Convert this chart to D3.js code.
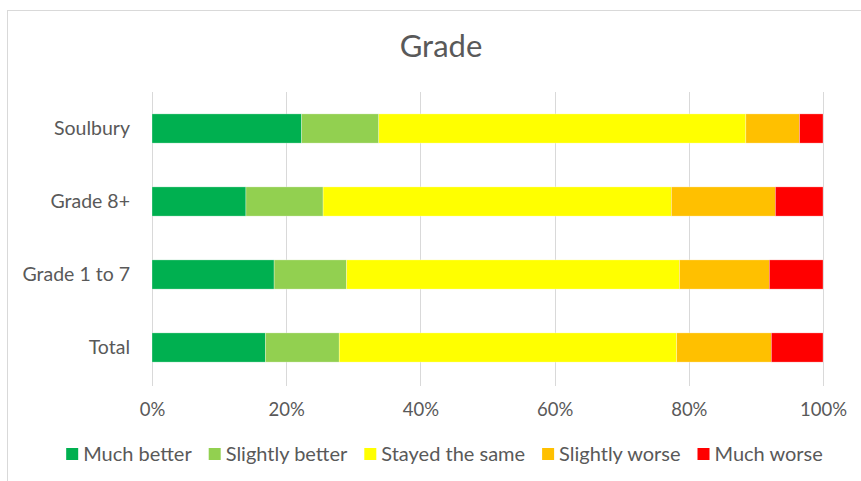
<!DOCTYPE html>
<html>
<head>
<meta charset="utf-8">
<script src="https://cdn.jsdelivr.net/npm/d3@7"></script>
<style>
  html, body { margin: 0; padding: 0; background: #fff; }
  svg { display: block; }
  text { font-family: Lato, "Open Sans", sans-serif; fill: #595959; }
</style>
</head>
<body>
<svg id="chart" width="861" height="481"></svg>
<script>
const categories = ["Soulbury", "Grade 8+", "Grade 1 to 7", "Total"];
const seriesNames = ["Much better", "Slightly better", "Stayed the same", "Slightly worse", "Much worse"];
const seriesColors = ["#00B050", "#92D050", "#FFFF00", "#FFC000", "#FF0000"];
const muchBetter     = [22.3, 14.0, 18.2, 16.9];
const slightlyBetter = [11.5, 11.5, 10.8, 11.0];
const stayedSame     = [54.7, 51.9, 49.6, 50.3];
const slightlyWorse  = [8.0, 15.5, 13.4, 14.1];
const muchWorse      = [3.5, 7.1, 8.0, 7.7];
const tickValues = [0, 0.2, 0.4, 0.6, 0.8, 1.0];
const titleText = "Grade";

const seriesValues = [muchBetter, slightlyBetter, stayedSame, slightlyWorse, muchWorse];
const rows = categories.map((c, i) => {
  const r = { category: c };
  seriesNames.forEach((s, j) => r[s] = seriesValues[j][i]);
  return r;
});

const svg = d3.select("#chart");
const FONT = "Lato, 'Open Sans', sans-serif";

// chart frame
svg.append("rect")
  .attr("x", 7.5).attr("y", 10.5)
  .attr("width", 880).attr("height", 500)
  .attr("fill", "none").attr("stroke", "#d9d9d9").attr("stroke-width", 1);

const x = d3.scaleLinear().domain([0, 1]).range([152, 823]);
const y = d3.scaleBand().domain(categories).range([92, 384])
  .paddingInner(0.6).paddingOuter(0.3);

// gridlines
svg.append("g").selectAll("line")
  .data(tickValues).join("line")
  .attr("x1", d => Math.round(x(d)) + 0.5).attr("x2", d => Math.round(x(d)) + 0.5)
  .attr("y1", 92).attr("y2", 386)
  .attr("stroke", "#d9d9d9").attr("stroke-width", 1);

// stacked bars
const stack = d3.stack().keys(seriesNames)
  .value((d, k) => d[k] / d3.sum(seriesNames, s => d[s]));
const layers = stack(rows);
const color = d3.scaleOrdinal().domain(seriesNames).range(seriesColors);

svg.append("g").selectAll("g")
  .data(layers).join("g")
  .attr("fill", d => color(d.key))
  .selectAll("rect")
  .data(d => d).join("rect")
  .attr("x", d => x(d[0]))
  .attr("width", d => x(d[1]) - x(d[0]))
  .attr("y", d => y(d.data.category))
  .attr("height", y.bandwidth())
  .attr("stroke", "rgba(255,255,255,0.5)").attr("stroke-width", 0.6);

// x axis labels
const xAxis = d3.axisBottom(x).tickValues(tickValues).tickFormat(d3.format(".0%")).tickSize(0).tickPadding(0);
const gx = svg.append("g").attr("transform", "translate(0,403)").call(xAxis);
gx.select(".domain").remove();
gx.selectAll("text").style("font-size", "18.5px").attr("dy", "0.71em")
  .style("font-family", FONT).attr("fill", "#595959");

// y axis labels
const yAxis = d3.axisLeft(y).tickSize(0).tickPadding(0);
const gy = svg.append("g").attr("transform", "translate(130,0)").call(yAxis);
gy.select(".domain").remove();
gy.selectAll("text").style("font-size", "19.5px")
  .style("font-family", FONT).attr("fill", "#595959");

// title
svg.append("text")
  .attr("x", 441).attr("y", 57)
  .attr("text-anchor", "middle")
  .style("font-size", "31px")
  .text(titleText);

// legend
const legend = svg.append("g").attr("transform", "translate(0,454)");
const items = legend.selectAll("g").data(seriesNames).join("g");
items.append("rect").attr("x", 0).attr("y", -6).attr("width", 12).attr("height", 12)
  .attr("fill", d => color(d));
items.append("text").attr("x", 17).attr("y", 0).attr("dy", "0.35em")
  .style("font-size", "20px").text(d => d);
const gap = 17;
const widths = [];
items.each(function() {
  const w = 17 + d3.select(this).select("text").node().getComputedTextLength();
  widths.push(w);
});
const total = d3.sum(widths) + gap * (widths.length - 1);
let start = 444.5 - total / 2;
items.attr("transform", (d, i) => {
  const t = `translate(${start},0)`;
  start += widths[i] + gap;
  return t;
});
</script>
</body>
</html>
